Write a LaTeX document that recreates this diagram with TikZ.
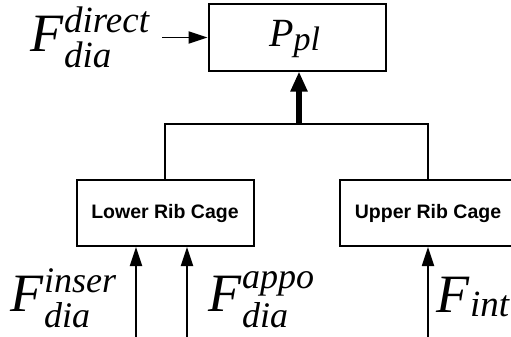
\documentclass[tikz,border=0pt]{standalone}
\usepackage{fontspec}
\setmainfont{Liberation Serif}
\newfontfamily\boxfont{Liberation Sans}
\usetikzlibrary{arrows.meta}
% #1 letter, #2 size, #3 script size, #4 sup, #5 raise, #6 sub, #7 lower
\newcommand{\Fsym}[7]{{\fontsize{#2}{#2}\selectfont #1}\kern1pt{\fontsize{#3}{#3}\selectfont\rlap{\raisebox{#5}{#4}}\raisebox{-#7}{#6}}}
\tikzset{
  blk/.style={draw=black, line width=2pt, minimum width=177pt, minimum height=66pt, inner sep=0pt, anchor=center},
  blktext/.style={font=\boxfont\bfseries\fontsize{19.5}{19.5}\selectfont},
  lbl/.style={anchor=base west, inner sep=0pt, font=\itshape},
  thin/.style={line width=1.8pt, -{Triangle[length=19pt,width=12pt]}},
  thick/.style={line width=5.5pt, -{Triangle[length=20pt,width=16pt]}},
  tree/.style={line width=2pt}
}
\begin{document}
\begin{tikzpicture}[x=1pt,y=-1pt]
\useasboundingbox (0,0) rectangle (511,337);
\clip (0,0) rectangle (511,337);
\fill[white] (0,0) rectangle (511,337);
% boxes
\node[blk] (ppl) at (297,37.5) {};
\node[lbl] (pplt) at (269,47) {{\fontsize{40}{40}\selectfont P}{\fontsize{34}{34}\selectfont\raisebox{-4pt}{pl}}};
\node[blk, blktext] (lower) at (165,213) {Lower Rib Cage};
\node[blk, blktext] (upper) at (428,213) {Upper Rib Cage};
% tree connector
\coordinate (jl) at (165,124);
\coordinate (jm) at (299,124);
\coordinate (jr) at (428,124);
\draw[tree] (lower.north) -- (jl) -- (jr) -- (upper.north);
\draw[thick] (jm) -- (ppl.south -| jm);
% direct input
\node[lbl] (fdir) at (30,52) {\Fsym{F}{54}{37}{direct}{19pt}{dia}{16pt}};
\coordinate (dstart) at (162,37.5);
\draw[thin] (dstart) -- (ppl.west);
% bottom inputs
\coordinate (b1) at (136,337);
\coordinate (b2) at (187,337);
\coordinate (b3) at (428,337);
\draw[thin] (b1) -- (b1 |- lower.south);
\draw[thin] (b2) -- (b2 |- lower.south);
\draw[thin] (b3) -- (upper.south);
\node[lbl] (finser) at (10,311) {\Fsym{F}{54}{36}{inser}{19pt}{dia}{16pt}};
\node[lbl] (fappo) at (208,311) {\Fsym{F}{54}{36}{appo}{23pt}{dia}{16pt}};
\node[lbl] (fint) at (436,312) {{\fontsize{54}{54}\selectfont F}\kern1pt{\fontsize{37}{37}\selectfont\raisebox{-4pt}{int}}};
\end{tikzpicture}
\end{document}
